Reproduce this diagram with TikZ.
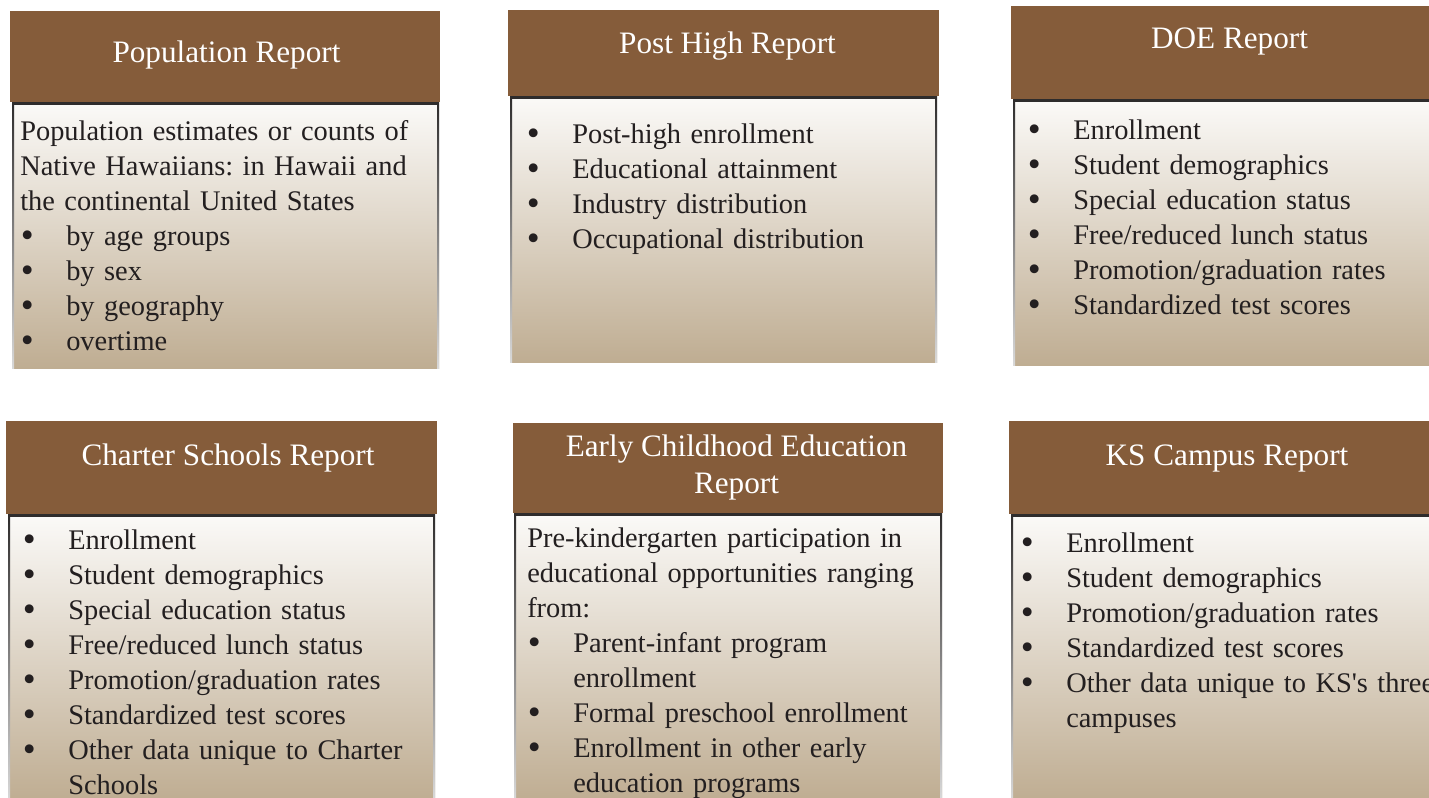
\documentclass[tikz,border=0pt]{standalone}
\usepackage{graphicx}
\usepackage{fontspec}
\setmainfont{Liberation Serif}
\newfontfamily\reportfont{Liberation Serif}

\definecolor{headbrown}{HTML}{855C3A}
\definecolor{bodytop}{HTML}{FBFAF8}
\definecolor{bodybot}{HTML}{BFAD92}
\definecolor{inkdark}{HTML}{231F20}
\definecolor{edgedark}{HTML}{2E2C2C}

% bullet lines, hanging under their own text
\newcommand{\bul}{\makebox[34.5pt][l]{\hspace{0.5pt}\raisebox{-1.7pt}{\scalebox{1.3}{\textbullet}}}}
\newcommand{\fitm}[1]{\noindent\hangindent=34.5pt\hangafter=1\bul#1}
\newcommand{\itm}[1]{\par\fitm{#1}}

% body of a panel: gradient, dark top edge, fading side edges
\newcommand{\panelbody}[4]{%
  \shade[top color=bodytop, bottom color=bodybot] (#1,#2) rectangle (#3,#4);
  \shade[top color=edgedark, bottom color=black!15] (#1,#2) rectangle ++(2,#4-#2);
  \shade[top color=edgedark, bottom color=black!15] (#3,#2) rectangle ++(-2,#4-#2);
  \fill[edgedark] (#1,#2) rectangle (#3,#2+2.5);
}

\begin{document}
\begin{tikzpicture}[x=0.75pt, y=-0.75pt,
    headbox/.style = {fill=headbrown},
    title/.style = {anchor=base, inner sep=0pt, text=white, align=center,
      font=\reportfont\fontsize{23.4pt}{27.75pt}\selectfont},
    bodytext/.style = {anchor=base west, inner sep=0pt, text=inkdark, align=left,
      text width=330pt, font=\reportfont\frenchspacing\fontsize{21.3pt}{26.25pt}\selectfont}]
  \clip (0,0) rectangle (1429,797);
  \fill[white] (0,0) rectangle (1429,797);

  % top row
  \fill[headbox] (10,11) rectangle (440,102);
  \panelbody{12}{102}{439}{368}
  \node[title] (poptitle) at (226.5,62) {Population Report};
  \node[bodytext] (poptext) at (20,140) {Population estimates or counts of\\
    Native Hawaiians: in Hawaii and\\ the continental United States
    \itm{by age groups}\itm{by sex}\itm{by geography}\itm{overtime}\par};

  \fill[headbox] (508,10) rectangle (939,96);
  \panelbody{510}{96}{937}{362}
  \node[title] (posttitle) at (727.5,53) {Post High Report};
  \node[bodytext] (posttext) at (526,143) {\fitm{Post-high enrollment}
    \itm{Educational attainment}\itm{Industry distribution}
    \itm{Occupational distribution}\par};

  \fill[headbox] (1011,6) rectangle (1441,99);
  \panelbody{1013}{99}{1439}{365}
  \node[title] (doetitle) at (1229.5,48) {DOE Report};
  \node[bodytext] (doetext) at (1027,139) {\fitm{Enrollment}
    \itm{Student demographics}\itm{Special education status}
    \itm{Free/reduced lunch status}\itm{Promotion/graduation rates}
    \itm{Standardized test scores}\par};

  % bottom row
  \fill[headbox] (6,421) rectangle (437,514);
  \panelbody{8}{514}{435}{800}
  \node[title] (chartitle) at (228,465) {Charter Schools Report};
  \node[bodytext] (chartext) at (22,549) {\fitm{Enrollment}
    \itm{Student demographics}\itm{Special education status}
    \itm{Free/reduced lunch status}\itm{Promotion/graduation rates}
    \itm{Standardized test scores}\itm{Other data unique to Charter\newline Schools}\par};

  \fill[headbox] (513,423) rectangle (943,513);
  \panelbody{514}{513}{942}{800}
  \node[title] (ecetitle) at (736.5,493) {Early Childhood Education\\ Report};
  \node[bodytext] (ecetext) at (527,547) {Pre-kindergarten participation in\\
    educational opportunities ranging\\ from:
    \itm{Parent-infant program\newline enrollment}\itm{Formal preschool enrollment}
    \itm{Enrollment in other early\newline education programs}\par};

  \fill[headbox] (1009,421) rectangle (1440,514);
  \panelbody{1011}{514}{1438}{800}
  \node[title] (kstitle) at (1227,465) {KS Campus Report};
  \node[bodytext] (kstext) at (1020,552) {\fitm{Enrollment}
    \itm{Student demographics}\itm{Promotion/graduation rates}
    \itm{Standardized test scores}\itm{Other data unique to KS's three\newline campuses}\par};
\end{tikzpicture}
\end{document}
